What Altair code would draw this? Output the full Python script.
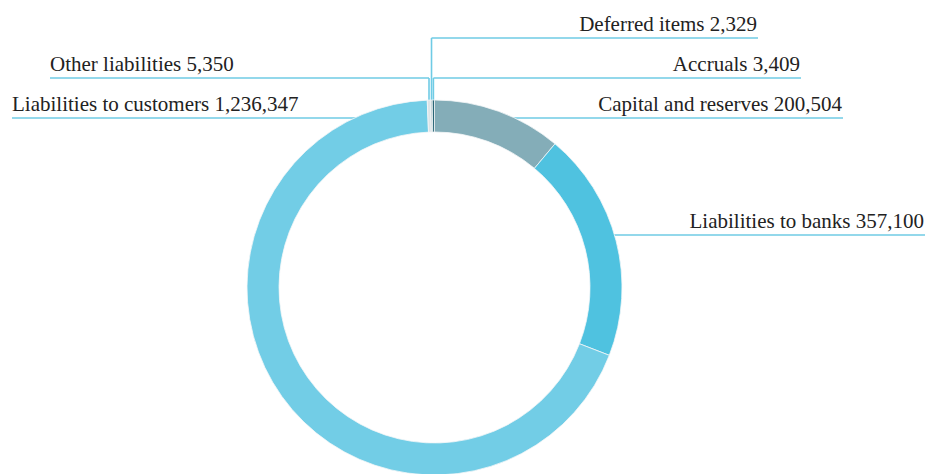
import math
import altair as alt
import pandas as pd

# ---- data ----
categories = ["Capital and reserves", "Liabilities to banks", "Liabilities to customers",
              "Other liabilities", "Deferred items", "Accruals"]
values = [200504, 357100, 1236347, 5350, 2329, 3409]
colors = ["#84adb8", "#4fc2e0", "#72cde6", "#dde4e7", "#a3bcc4", "#2a6677"]

# ---- layout (annotation placement) ----
W, H = 917, 466
CX, CY = 426.5, 279.5
R_OUT, R_IN = 187.5, 155.5
label_side = ["right", "right", "left", "left", "right", "right"]
label_row_y = [110, 227, 110, 70, 30, 70]
label_x = [835, 917, 4, 42, 750, 793]
elbow = [False, False, False, True, True, True]
LINE_COLOR = "#6fcbe5"
TEXT_COLOR = "#222222"
FONT = "Liberation Serif"

total = sum(values)
df = pd.DataFrame({"category": categories, "value": values, "idx": range(len(values))})

# leader segments, computed from slice angles / ring geometry
segs = []
texts = []
cum = 0.0
for i, v in enumerate(values):
    a0 = cum / total * 2 * math.pi
    cum += v
    a1 = cum / total * 2 * math.pi
    mid = (a0 + a1) / 2
    y = label_row_y[i]
    side = label_side[i]
    if elbow[i]:
        ex = CX + R_OUT * math.sin(mid)
        ey = CY - R_OUT * math.cos(mid) + 4
        segs.append({"x": ex, "x2": ex, "y": y, "y2": ey})
        if side == "right":
            segs.append({"x": ex, "x2": label_x[i], "y": y, "y2": y})
        else:
            segs.append({"x": label_x[i], "x2": ex, "y": y, "y2": y})
    else:
        dx = math.sqrt(max(R_OUT ** 2 - (CY - y) ** 2, 0))
        if side == "right":
            segs.append({"x": CX + dx - 12, "x2": label_x[i], "y": y, "y2": y})
        else:
            segs.append({"x": label_x[i], "x2": CX - dx + 12, "y": y, "y2": y})
    tx = label_x[i] - 1 if side == "right" else label_x[i]
    texts.append({"label": f"{categories[i]} {v:,}", "tx": tx, "ty": y - 7, "side": side})

seg_df = pd.DataFrame(segs)
txt_df = pd.DataFrame(texts)

xs = alt.Scale(domain=[0, W], range=[0, W])
ys = alt.Scale(domain=[0, H], range=[0, H])

rules = alt.Chart(seg_df).mark_rule(color=LINE_COLOR, strokeWidth=1.6).encode(
    x=alt.X("x:Q", scale=xs, axis=None),
    x2="x2:Q",
    y=alt.Y("y:Q", scale=ys, axis=None),
    y2="y2:Q",
)

ring = alt.Chart(df).mark_arc(radius=R_OUT, innerRadius=R_IN, stroke="#f4f6f7", strokeWidth=0.8).encode(
    theta=alt.Theta("value:Q", stack=True),
    order=alt.Order("idx:Q"),
    color=alt.Color("category:N", scale=alt.Scale(domain=categories, range=colors), legend=None),
    x=alt.value(CX),
    y=alt.value(CY),
)

def text_layer(side, align):
    return alt.Chart(txt_df).transform_filter(alt.datum.side == side).mark_text(
        align=align, baseline="alphabetic", font=FONT, fontSize=21, color=TEXT_COLOR
    ).encode(
        x=alt.X("tx:Q", scale=xs, axis=None),
        y=alt.Y("ty:Q", scale=ys, axis=None),
        text="label:N",
    )

chart = alt.layer(rules, ring, text_layer("right", "right"), text_layer("left", "left")).properties(
    width=W, height=H, padding=0, autosize="none"
).configure_view(stroke=None)

chart.save("out.html", embed_options={"renderer": "svg", "actions": False})
